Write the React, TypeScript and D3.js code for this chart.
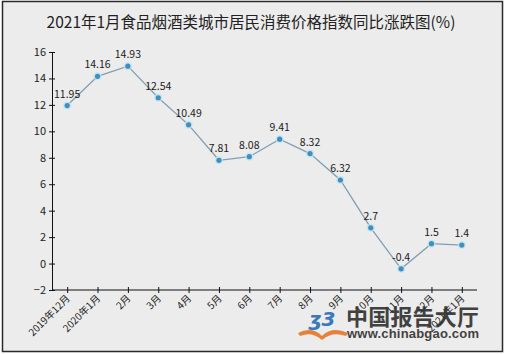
import React, { useRef, useEffect } from "react";
import * as d3 from "d3";

const title = "2021年1月食品烟酒类城市居民消费价格指数同比涨跌图(%)";
const months = [
  "2019年12月", "2020年1月", "2月", "3月", "4月", "5月", "6月",
  "7月", "8月", "9月", "10月", "11月", "12月", "2021年1月",
];
const values = [11.95, 14.16, 14.93, 12.54, 10.49, 7.81, 8.08, 9.41, 8.32, 6.32, 2.7, -0.4, 1.5, 1.4];
const yTicks = [-2, 0, 2, 4, 6, 8, 10, 12, 14, 16];

const W = 505;
const H = 354;
const left = 52;
const right = 477;
const top = 52;
const bottom = 290;
const font = "'Noto Sans CJK SC', 'Noto Sans', sans-serif";

const App: React.FC = () => {
  const svgRef = useRef<SVGSVGElement | null>(null);

  useEffect(() => {
    if (!svgRef.current) return;
    const svg = d3.select(svgRef.current);
    svg.selectAll("*").remove();

    const x = d3.scalePoint<string>().domain(months).range([left, right]).padding(0.5);
    const y = d3.scaleLinear().domain([-2, 16]).range([bottom, top]);

    // background + frame
    svg.append("rect").attr("width", W).attr("height", H).attr("fill", "#fff");
    svg
      .append("rect")
      .attr("x", 2.5)
      .attr("y", 1.5)
      .attr("width", 500)
      .attr("height", 350)
      .attr("fill", "#ececec")
      .attr("stroke", "#2a2a2a")
      .attr("stroke-width", 1.5);

    svg
      .append("text")
      .attr("x", 251)
      .attr("y", 28)
      .attr("text-anchor", "middle")
      .attr("font-family", font)
      .attr("font-size", 15.5)
      .attr("fill", "#222")
      .text(title);

    // y axis
    const yAxis = svg
      .append("g")
      .attr("transform", `translate(${left},0)`)
      .call(d3.axisLeft(y).tickValues(yTicks).tickSize(3).tickSizeOuter(0).tickPadding(3));
    yAxis.selectAll(".tick line").attr("x1", 3);
    yAxis.selectAll("path, line").attr("stroke", "#111");
    yAxis.selectAll("text").attr("font-family", font).attr("font-size", 11).attr("fill", "#222");

    // x axis
    const xAxis = svg
      .append("g")
      .attr("transform", `translate(0,${bottom})`)
      .call(d3.axisBottom(x).tickSize(3).tickSizeOuter(0));
    xAxis.select(".domain").attr("d", `M${left},0H${right}`);
    xAxis.selectAll(".tick line").attr("y1", -3);
    xAxis.selectAll("path, line").attr("stroke", "#111");
    xAxis
      .selectAll<SVGTextElement, string>("text")
      .attr("font-family", font)
      .attr("font-size", 10)
      .attr("fill", "#222")
      .attr("text-anchor", "end")
      .attr("dy", 0)
      .attr("y", 0)
      .attr("transform", "translate(3,9) rotate(-45)");

    // watermark
    const wm = svg.append("g").attr("opacity", 0.92);
    wm.append("path")
      .attr("d", "M298,333 Q312,326 322,336 Q332,326 348,333 L346,336 Q332,331 322,340 Q312,331 300,336 Z")
      .attr("fill", "#e9772b");
    wm.append("text")
      .attr("x", 322)
      .attr("y", 326)
      .attr("text-anchor", "middle")
      .attr("font-family", "'DejaVu Sans', sans-serif")
      .attr("font-style", "italic")
      .attr("font-weight", "bold")
      .attr("font-size", 20)
      .attr("fill", "#2a6fb8")
      .text("ʒ3");
    wm.append("text")
      .attr("x", 346)
      .attr("y", 325)
      .attr("font-family", font)
      .attr("font-weight", "bold")
      .attr("font-size", 22)
      .attr("textLength", 133)
      .attr("fill", "#333")
      .text("中国报告大厅");
    wm.append("text")
      .attr("x", 347)
      .attr("y", 338)
      .attr("font-family", "'Liberation Sans', Arial, sans-serif")
      .attr("font-weight", "bold")
      .attr("font-size", 13)
      .attr("textLength", 132)
      .attr("fill", "#333")
      .text("www.chinabgao.com");

    // line
    const line = d3
      .line<number>()
      .x((_, i) => x(months[i]) as number)
      .y((d) => y(d));
    svg
      .append("path")
      .datum(values)
      .attr("d", line)
      .attr("fill", "none")
      .attr("stroke", "#7f9fb3")
      .attr("stroke-width", 1.3);

    const pts = svg.append("g");
    values.forEach((v, i) => {
      const cx = x(months[i]) as number;
      const cy = y(v);
      pts.append("circle").attr("cx", cx).attr("cy", cy).attr("r", 4).attr("fill", "#bfe3f3").attr("opacity", 0.8);
      pts.append("circle").attr("cx", cx).attr("cy", cy).attr("r", 2.6).attr("fill", "#3f8fc0");
      pts
        .append("text")
        .attr("x", cx)
        .attr("y", cy - 8)
        .attr("text-anchor", "middle")
        .attr("font-family", font)
        .attr("font-size", 10.5)
        .attr("fill", "#1a1a1a")
        .text(String(v));
    });
  }, []);

  return (
    <div style={{ position: "fixed", left: 0, top: 0 }}>
      <svg ref={svgRef} width={W} height={H} style={{ display: "block" }} />
    </div>
  );
};

export default App;
